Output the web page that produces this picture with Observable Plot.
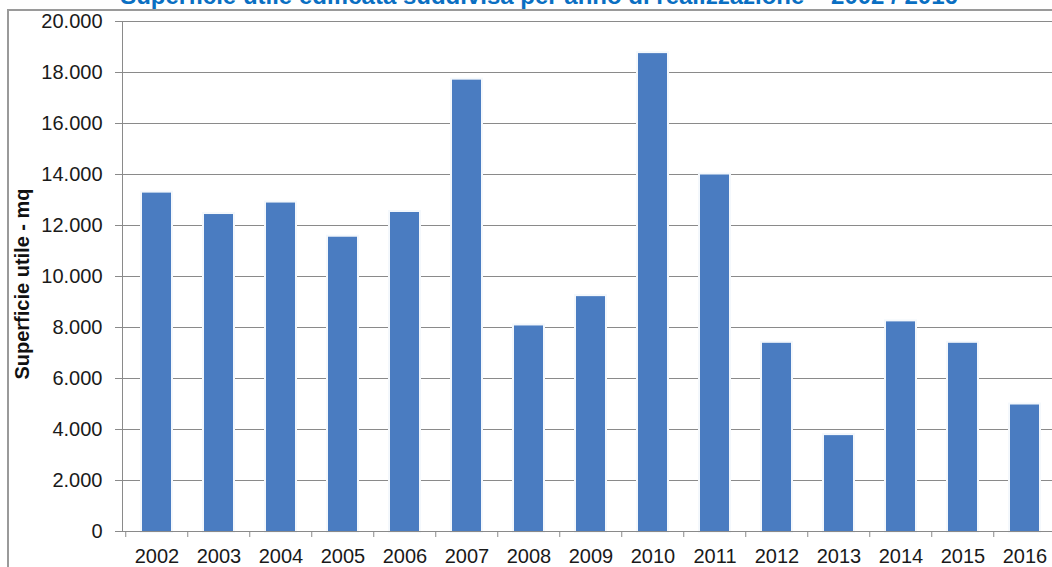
<!DOCTYPE html>
<html>
<head>
<meta charset="utf-8">
<script src="https://cdn.jsdelivr.net/npm/d3@7"></script>
<script src="https://cdn.jsdelivr.net/npm/@observablehq/plot@0.6"></script>
<style>
  html, body { margin: 0; padding: 0; background: #fff; overflow: hidden; }
  #wrap { position: relative; width: 1052px; height: 567px; overflow: hidden; font-family: "Liberation Sans", Arial, sans-serif; }
  #border { position: absolute; left: 7px; top: 9px; width: 1100px; height: 600px; border-left: 2px solid #9a9a9a; border-top: 2px solid #9a9a9a; }
  #title { position: absolute; left: 0; width: 1078px; top: -18px; text-align: center; color: #0a6fc2; font-weight: bold; font-size: 24px; white-space: nowrap; }
  #chart { position: absolute; left: 0; top: 0; }
  #ylabel { position: absolute; left: 22px; top: 284px; transform: translate(-50%, -50%) rotate(-90deg); font-weight: bold; font-size: 20px; color: #111; white-space: nowrap; }
</style>
</head>
<body>
<div id="wrap">
  <div id="border"></div>
  <div id="chart"></div>
  <div id="title">Superficie utile edificata suddivisa per anno di realizzazione – 2002 / 2016</div>
  <div id="ylabel">Superficie utile - mq</div>
</div>
<script>
const years = ["2002","2003","2004","2005","2006","2007","2008","2009","2010","2011","2012","2013","2014","2015","2016"];
const values = [13270, 12430, 12880, 11540, 12510, 17700, 8060, 9210, 18740, 13980, 7380, 3760, 8220, 7380, 4960];
const yTicks = [0, 2000, 4000, 6000, 8000, 10000, 12000, 14000, 16000, 18000, 20000];

const data = years.map((y, i) => ({year: y, value: values[i]}));
const W = 1052, H = 567, ML = 122, MR = -7.5, MT = 21, MB = 36;
const step = (W - ML - MR) / years.length;
const fmt = d => d3.format(",")(d).replace(/,/g, ".");
const font = "Liberation Sans, Arial, sans-serif";

const chart = Plot.plot({
  width: W,
  height: H,
  marginLeft: ML,
  marginRight: MR,
  marginTop: MT,
  marginBottom: MB,
  style: { fontFamily: font, fontSize: "20px", color: "#1a1a1a", background: "transparent", overflow: "visible" },
  x: { domain: years, paddingInner: 0.54, paddingOuter: 0.27, label: null },
  y: { domain: [0, 20000], ticks: yTicks, label: null },
  marks: [
    Plot.ruleY(yTicks, { stroke: "#8a8a8a", strokeWidth: 1 }),
    Plot.barY(data, { x: "year", y: "value", fill: "#ffffff", stroke: "#f4f8fc", strokeWidth: 4 }),
    Plot.barY(data, { x: "year", y: "value", fill: "#4a7cc1" }),
    Plot.frame({ anchor: "left", stroke: "#8a8a8a" }),
    Plot.ruleY([0], { stroke: "#8a8a8a", strokeWidth: 1.2 }),
    Plot.axisY({ ticks: yTicks, tickFormat: fmt, tickSize: 7, tickPadding: 13, stroke: "#8a8a8a", fill: "#1a1a1a", fontSize: 20, label: null }),
    Plot.axisX({ tickSize: 0, tickPadding: 17, fill: "#1a1a1a", fontSize: 20, label: null }),
    Plot.axisX({ tickSize: 6, tickFormat: () => "", dx: -step / 2, stroke: "#8a8a8a", label: null })
  ]
});
document.getElementById("chart").appendChild(chart);
</script>
</body>
</html>
